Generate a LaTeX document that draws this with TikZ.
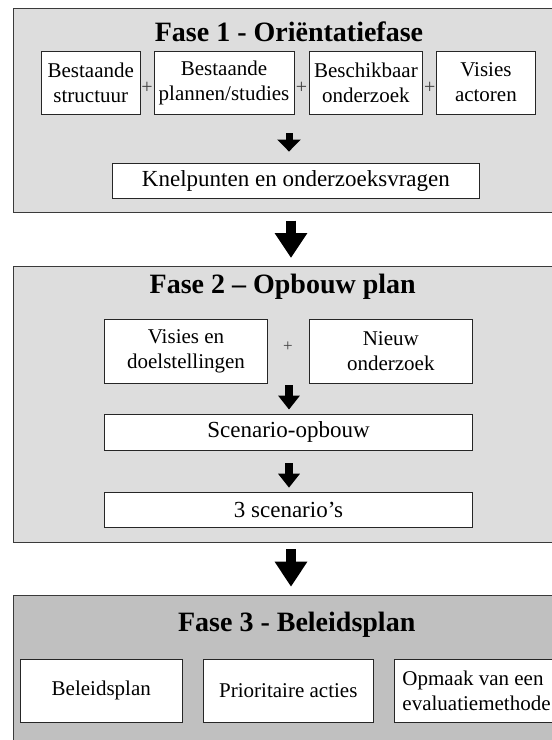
\documentclass[tikz,border=0pt]{standalone}
\usepackage{fontspec}
\setmainfont{Liberation Serif}
\usetikzlibrary{arrows.meta}
\definecolor{phaseA}{HTML}{DDDDDD}
\definecolor{phaseB}{HTML}{C0C0C0}
\definecolor{edgegray}{HTML}{3A3A3A}
\begin{document}
\begin{tikzpicture}[x=1pt,y=-1pt,
  phase/.style={draw=edgegray, line width=1.3pt, anchor=north west, inner sep=0pt},
  box/.style={draw=black!85, fill=white, line width=0.9pt, align=center, inner sep=0pt,
              font=\fontsize{21}{25}\selectfont},
  wide/.style={box, font=\fontsize{23}{27}\selectfont},
  title/.style={inner sep=0pt, font=\fontsize{28}{32}\selectfont\bfseries},
  plusA/.style={text=black!75, inner sep=0pt, font=\fontsize{20}{20}\selectfont},
  plusB/.style={text=black!75, inner sep=0pt, font=\fontsize{17}{17}\selectfont},
  bigarrow/.style={line width=9.5pt, -{Triangle[width=31pt,length=25pt]}},
  smallarrowA/.style={line width=7pt, -{Triangle[width=23pt,length=12pt]}},
  smallarrowB/.style={line width=7.5pt, -{Triangle[width=21pt,length=14pt]}},
]
\useasboundingbox (0,0) rectangle (552,740);
\clip (0,0) rectangle (552,740);
\fill[white] (0,0) rectangle (552,740);

% ---------- Phase 1 ----------
\node[phase, fill=phaseA, minimum width=562pt, minimum height=204pt] (p1) at (13,8) {};
\node[title] (t1) at (289,31.7) {Fase 1 - Oriëntatiefase};
\node[box, minimum width=98.5pt, minimum height=63pt] (b1) at (90.8,82.5) {Bestaande\\structuur};
\node[box, minimum width=140pt, minimum height=63pt] (b2) at (224,82.5) {Bestaande\\plannen/studies};
\node[box, minimum width=113.7pt, minimum height=63pt] (b3) at (365.9,82.5) {Beschikbaar\\onderzoek};
\node[box, minimum width=98.3pt, minimum height=63pt] (b4) at (485.9,82.5) {Visies\\actoren};
\node[plusA] (q1) at (147,88) {+};
\node[plusA] (q2) at (301.5,88) {+};
\node[plusA] (q3) at (429.7,88) {+};
\node[wide, minimum width=366.3pt, minimum height=35pt] (kn) at (295.9,180.5) {Knelpunten en onderzoeksvragen};
\coordinate (a1) at (289,133);
\draw[smallarrowA, shorten >=11pt] (a1) -- (a1 |- kn.north);

% ---------- arrow 1 -> 2 ----------
\coordinate (c1) at (291,212);

% ---------- Phase 2 ----------
\node[phase, fill=phaseA, minimum width=562pt, minimum height=276pt] (p2) at (13,265.7) {};
\draw[bigarrow, shorten <=8.7pt, shorten >=7.7pt] (c1) -- (c1 |- p2.north);
\node[title] (t2) at (282.7,286.7) {Fase 2 – Opbouw plan};
\node[box, minimum width=163pt, minimum height=64pt] (v) at (186,351) {Visies en\\doelstellingen};
\node[box, minimum width=163.5pt, minimum height=64pt] (nw) at (390.8,351) {Nieuw\\onderzoek};
\node[plusB] (q4) at (288,347) {+};
\node[wide, minimum width=368pt, minimum height=36pt] (so) at (288.5,432) {Scenario-opbouw};
\node[wide, minimum width=368pt, minimum height=34.3pt] (sc) at (288.5,510) {3 scenario’s};
\coordinate (a2) at (289,383);
\draw[smallarrowB, shorten <=2pt, shorten >=4pt] (a2) -- (a2 |- so.north);
\coordinate (a3) at (289,450);
\draw[smallarrowB, shorten <=13pt, shorten >=4.7pt] (a3) -- (a3 |- sc.north);

% ---------- Phase 3 ----------
\coordinate (c2) at (291,541.7);
\node[phase, fill=phaseB, minimum width=562pt, minimum height=170pt] (p3) at (13,595) {};
\draw[bigarrow, shorten <=7.3pt, shorten >=8.3pt] (c2) -- (c2 |- p3.north);
\node[title] (t3) at (296.7,625) {Fase 3 - Beleidsplan};
\node[box, minimum width=162.7pt, minimum height=63pt] (e1) at (101.3,690.5) {Beleidsplan};
\node[box, minimum width=169.8pt, minimum height=63pt] (e2) at (288.3,690.5) {Prioritaire acties};
\node[box, align=left, minimum width=164pt, minimum height=63pt] (e3) at (476.5,690.5) {Opmaak van een\\evaluatiemethode};
\end{tikzpicture}
\end{document}
